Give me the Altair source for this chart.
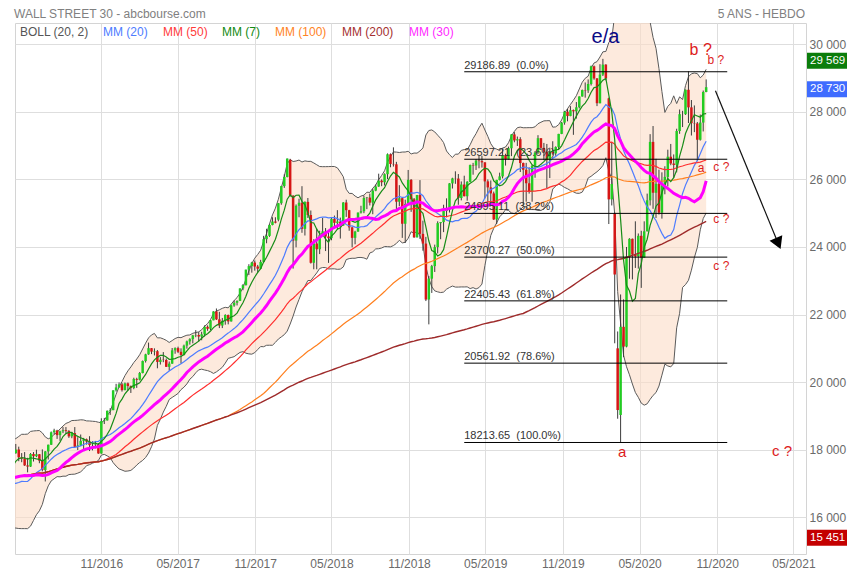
import altair as alt
import pandas as pd

FIRST_WEEK = "2015-10-12"

# weekly OHLC, one bar per week starting FIRST_WEEK
opens = [
    # 2015
    16990, 17216, 17647, 17664, 17910, 17245, 17824, 17798, 17848, 17265, 17128, 17552,
    # 2016
    17425, 16346, 15988, 16094, 16466, 16205, 15974, 16392, 16640, 17007, 17213, 17602, 17516,
    17793, 17577, 17898, 18004, 17774, 17740, 17535, 17501, 17873, 17807, 17865, 17675, 17400,
    17949, 18147, 18516, 18571, 18432, 18544, 18577, 18553, 18395, 18492, 18085, 18124, 18262,
    18308, 18240, 18138, 18145, 18161, 17888, 18848, 18868, 19152, 19171, 19757, 19843, 19934,
    # 2017
    19763, 19964, 19886, 19827, 20094, 20071, 20269, 20624, 20822, 21006, 20903, 20915, 20597,
    20663, 20656, 20453, 20548, 20941, 21007, 20897, 20805, 21080, 21206, 21272, 21384, 21395,
    21350, 21414, 21638, 21580, 21830, 22092, 21858, 21675, 21814, 21988, 21798, 22268, 22350,
    22405, 22773, 22871, 23329, 23434, 23539, 23422, 23358, 23558, 24231, 24329, 24652, 24754,
    # 2018
    24809, 25296, 25803, 26072, 26583, 25521, 24191, 25219, 25310, 24538, 25336, 24947, 23533,
    24103, 23933, 24360, 24463, 24311, 24263, 24831, 24715, 24753, 24635, 25317, 25090, 24581,
    24271, 24456, 25019, 25058, 25451, 25463, 25313, 25669, 25790, 25965, 25917, 26155, 26744,
    26458, 26447, 25340, 25444, 24688, 25271, 25989, 25413, 24286, 25538, 24389, 24101, 22445,
    23062,
    # 2019
    23433, 23996, 24706, 24737, 25064, 25106, 25883, 26031, 26026, 25450, 25849, 25502, 25929,
    26425, 26412, 26559, 26543, 26505, 25942, 25764, 25586, 24815, 25984, 26090, 26719, 26600,
    26922, 27332, 27154, 27192, 26485, 26287, 25886, 25629, 26403, 26797, 27220, 26935, 26820,
    26573, 26817, 26770, 26958, 27347, 27681, 28005, 27876, 28051, 28015, 28135, 28455, 28645,
    # 2020
    28635, 28824, 29348, 28990, 28256, 29103, 29398, 28400, 25409, 24990, 21000, 19028, 21637,
    21053, 23719, 24242, 23775, 23724, 24331, 23685, 24465, 25383, 27111, 25606, 25871, 25016,
    25827, 26075, 26672, 26470, 26428, 27433, 27931, 27930, 28654, 28133, 27666, 27657, 27174,
    27683, 28587,
]
highs = [
    # 2015
    17240, 17660, 17800, 17980, 17930, 17900, 17840, 17900, 17860, 17790, 17600, 17720,
    # 2016
    17425, 16570, 16110, 16470, 16510, 16210, 16460, 16700, 17050, 17240, 17620, 17630, 17800,
    17800, 17960, 18170, 18090, 17900, 17930, 17760, 17900, 17930, 18000, 17870, 18010, 17960,
    18150, 18540, 18620, 18590, 18560, 18670, 18670, 18580, 18530, 18670, 18370, 18450, 18350,
    18330, 18400, 18250, 18260, 18200, 18930, 18940, 19160, 19230, 19760, 19950, 19990, 19980,
    # 2017
    19990, 19990, 19900, 20130, 20130, 20300, 20640, 20840, 21170, 21010, 21000, 20950, 20740,
    20890, 20700, 20610, 21010, 21030, 21050, 21000, 21110, 21230, 21300, 21400, 21540, 21480,
    21490, 21680, 21680, 21840, 22100, 22180, 22080, 21900, 22010, 22000, 22290, 22420, 22420,
    22780, 22900, 23330, 23490, 23560, 23600, 23470, 23620, 24330, 24540, 24670, 24880, 24880,
    # 2018
    25300, 25810, 26150, 26620, 26610, 25530, 25260, 25430, 25800, 25350, 25450, 25080, 24230,
    24540, 24480, 24860, 24560, 24480, 24860, 24930, 25090, 24870, 25330, 25400, 25100, 24600,
    24480, 25020, 25220, 25520, 25480, 25580, 25730, 25850, 26170, 26000, 26180, 26770, 26770,
    26950, 26520, 25830, 25470, 25400, 26280, 26010, 25450, 25540, 25980, 24780, 24300, 23140,
    23470,
    # 2019
    24070, 24760, 24740, 25250, 25440, 25890, 26050, 26240, 26160, 25940, 26110, 25950, 26440,
    26490, 26600, 26700, 26700, 26510, 26000, 25970, 25640, 25990, 26200, 26910, 26760, 26970,
    27340, 27400, 27270, 27250, 26500, 26490, 26360, 26430, 26840, 27310, 27220, 27080, 27050,
    26940, 27130, 26980, 27350, 27700, 28030, 28090, 28170, 28070, 28290, 28460, 28660, 28870,
    # 2020
    28960, 29370, 29370, 29000, 29410, 29569, 29410, 28420, 27100, 25020, 21500, 22595, 22450,
    24000, 24260, 24250, 24760, 24400, 24480, 24760, 25580, 27340, 27580, 26610, 26290, 26210,
    26390, 26880, 27050, 26740, 27500, 28070, 28030, 28660, 29200, 28350, 28190, 27700, 27920,
    28630, 28960,
]
lows = [
    # 2015
    16950, 17010, 17550, 17640, 17230, 17210, 17680, 17380, 17240, 17120, 17100, 17420,
    # 2016
    16310, 15840, 15451, 15880, 15950, 15503, 15970, 16300, 16500, 16820, 17150, 17400, 17480,
    17480, 17550, 17880, 17660, 17630, 17520, 17330, 17490, 17650, 17780, 17600, 17360, 17060,
    17710, 18140, 18450, 18320, 18260, 18490, 18480, 18350, 18340, 18080, 17990, 18110, 18010,
    18150, 17960, 17980, 18040, 17880, 17880, 18760, 18860, 19030, 19170, 19720, 19840, 19720,
    # 2017
    19760, 19750, 19680, 19790, 19830, 20050, 20260, 20580, 20810, 20830, 20790, 20410, 20520,
    20590, 20450, 20340, 20540, 20840, 20860, 20550, 20790, 20990, 21110, 21150, 21330, 21200,
    21240, 21350, 21520, 21540, 21830, 21840, 21600, 21600, 21700, 21710, 21790, 22230, 22270,
    22400, 22720, 22860, 23170, 23240, 23300, 23240, 23350, 23540, 24110, 24300, 24640, 24700,
    # 2018
    24760, 25250, 25750, 26060, 25490, 23360, 23990, 24880, 24420, 24340, 24860, 23510, 23340,
    23340, 23790, 24340, 23880, 23530, 24200, 24570, 24520, 24250, 24630, 24890, 24480, 23990,
    24080, 24450, 24990, 25000, 25120, 25230, 24970, 25650, 25780, 25800, 25820, 26010, 26360,
    26380, 25080, 25210, 24270, 24120, 25250, 25040, 24270, 24280, 24240, 23890, 22400, 21710,
    22640,
    # 2019
    23260, 23810, 24230, 24440, 24880, 25020, 25730, 25870, 25250, 25380, 25500, 25370, 25920,
    26140, 26280, 26330, 26350, 25440, 25220, 25330, 24800, 24680, 25970, 26030, 26410, 26590,
    26690, 27100, 26990, 26220, 25230, 25340, 25580, 25340, 26050, 26750, 26870, 26570, 25740,
    26040, 26730, 26700, 26900, 27340, 27620, 27720, 27870, 27320, 27800, 28100, 28450, 28420,
    # 2020
    28560, 28780, 28950, 28170, 28250, 29060, 28930, 24680, 25230, 21150, 18917, 18214, 20740,
    21030, 23060, 23040, 23380, 23360, 22790, 23680, 24460, 25230, 25130, 24860, 24960, 24840,
    25560, 25790, 26420, 26040, 26210, 27350, 27550, 27910, 27670, 27300, 27400, 26540, 27150,
    27420, 28580,
]
closes = [
    # 2015
    17216, 17647, 17664, 17910, 17245, 17824, 17798, 17848, 17265, 17128, 17552, 17425,
    # 2016
    16346, 15988, 16094, 16466, 16205, 15974, 16392, 16640, 17007, 17213, 17602, 17516, 17793,
    17577, 17898, 18004, 17774, 17740, 17535, 17501, 17873, 17807, 17865, 17675, 17400, 17949,
    18147, 18516, 18571, 18432, 18544, 18577, 18553, 18395, 18492, 18085, 18124, 18262, 18308,
    18240, 18138, 18145, 18161, 17888, 18848, 18868, 19152, 19171, 19757, 19843, 19934, 19763,
    # 2017
    19964, 19886, 19827, 20094, 20071, 20269, 20624, 20822, 21006, 20903, 20915, 20597, 20663,
    20656, 20453, 20548, 20941, 21007, 20897, 20805, 21080, 21206, 21272, 21384, 21395, 21350,
    21414, 21638, 21580, 21830, 22092, 21858, 21675, 21814, 21988, 21798, 22268, 22350, 22405,
    22773, 22871, 23329, 23434, 23539, 23422, 23358, 23558, 24231, 24329, 24652, 24754, 24719,
    # 2018
    25296, 25803, 26072, 26617, 25521, 24191, 25219, 25310, 24538, 25336, 24947, 23533, 24103,
    23933, 24360, 24463, 24311, 24263, 24831, 24715, 24753, 24635, 25317, 25090, 24581, 24271,
    24456, 25019, 25058, 25451, 25463, 25313, 25669, 25790, 25965, 25917, 26155, 26744, 26458,
    26447, 25340, 25444, 24688, 25271, 25989, 25413, 24286, 25538, 24389, 24101, 22445, 23062,
    23433,
    # 2019
    23996, 24706, 24737, 25064, 25106, 25883, 26031, 26026, 25450, 25849, 25502, 25929, 26425,
    26412, 26559, 26543, 26505, 25942, 25764, 25586, 24815, 25984, 26090, 26719, 26600, 26922,
    27332, 27154, 27192, 26485, 26287, 25886, 25629, 26403, 26797, 27220, 26935, 26820, 26573,
    26817, 26770, 26958, 27347, 27681, 28005, 27876, 28051, 28015, 28135, 28455, 28645, 28635,
    # 2020
    28824, 29348, 28990, 28256, 29103, 29398, 28992, 25409, 25865, 23186, 19174, 21637, 21053,
    23719, 24242, 23775, 23724, 24331, 23685, 24465, 25383, 27111, 25606, 25871, 25016, 25827,
    26075, 26672, 26470, 26428, 27433, 27931, 27930, 28654, 28133, 27666, 27657, 27174, 27683,
    28587, 28730,
]
assert len(opens) == len(highs) == len(lows) == len(closes) == 262

# Fibonacci retracement
fib_high = 29186.89
fib_low = 18213.65
fib_pcts = [0.0, 23.6, 38.2, 50.0, 61.8, 78.6, 100.0]
fib_span = ["2019-03-18", "2020-12-01"]

# price badges on the right axis
badge_values = [29569, 28730, 15451]
badge_colors = ["#0b7d0b", "#3f6cff", "#c40000"]

# wave annotations (text, date, price)
ann_texts = ["e/a", "b ?", "b ?", "a", "c ?", "c ?", "c ?", "a", "c ?"]
ann_dates = ["2020-02-16", "2020-09-29", "2020-11-04", "2020-09-30", "2020-11-17",
             "2020-11-17", "2020-11-17", "2020-03-27", "2021-04-10"]
ann_prices = [30030, 29683, 29417, 26330, 26360, 24840, 23450, 17941, 17971]

# projected arrow
arrow_dates = ["2020-11-03", "2021-04-01"]
arrow_prices = [28627, 24104]

legend_names = ["BOLL (20, 2)", "MM (20)", "MM (50)", "MM (7)", "MM (100)", "MM (200)", "MM (30)"]
legend_colors = ["#555555", "#4d7cff", "#ff3b3b", "#128a12", "#ff8426", "#a53030", "#ff2bff"]

tick_dates = ["2016-11-07", "2017-05-07", "2017-11-07", "2018-05-07", "2018-11-07",
              "2019-05-07", "2019-11-07", "2020-05-07", "2020-11-07", "2021-05-07"]
y_ticks = [16000, 18000, 20000, 22000, 24000, 26000, 28000, 30000]
x_domain = ["2016-04-28", "2021-05-25"]
y_domain = [14913, 30630]

# ---------------------------------------------------------------- data frames
weeks = pd.date_range(FIRST_WEEK, periods=len(closes), freq="7D")
df = pd.DataFrame({"date": weeks.strftime("%Y-%m-%d"), "open": opens, "high": highs,
                   "low": lows, "close": closes})
c = df["close"]
for n in (7, 20, 30, 50, 100, 200):
    df[f"mm{n}"] = c.rolling(n, min_periods=1).mean()
mid = c.rolling(20, min_periods=1).mean()
sd = c.rolling(20, min_periods=1).std(ddof=0).fillna(0)
df["bb_up"] = mid + 2 * sd
df["bb_lo"] = mid - 2 * sd

fib_df = pd.DataFrame({
    "date": fib_span[0], "date_end": fib_span[1],
    "price": [fib_high - p / 100.0 * (fib_high - fib_low) for p in fib_pcts],
    "pct": fib_pcts,
})
fib_df["label"] = [f"{v:.2f}\u00a0 ({p:.1f}%)" for v, p in zip(fib_df["price"], fib_df["pct"])]

badge_df = pd.DataFrame({"price": badge_values, "col": badge_colors,
                         "label": [f"{v:,}".replace(",", " ") for v in badge_values]})


def dt(s):
    t = pd.Timestamp(s)
    return alt.DateTime(year=t.year, month=t.month, date=t.day, utc=True)


FONT = "Liberation Sans"
GRID = "#dedede"
xs = alt.Scale(type="utc", domain=[dt(s) for s in x_domain])
ys = alt.Scale(domain=y_domain, nice=False, zero=False)
xa = alt.Axis(values=[dt(s) for s in tick_dates], labelExpr="utcFormat(datum.value, '%m/%Y')",
              grid=True, gridColor=GRID, domain=False, ticks=False, labelPadding=4,
              labelColor="#6a6a6a", labelFontSize=12, labelFont=FONT, labelFlush=False,
              labelOverlap=False, title=None)
ya = alt.Axis(orient="right", values=y_ticks,
              labelExpr="replace(format(datum.value, ','), ',', ' ')",
              grid=True, gridColor=GRID, domain=False, ticks=False, labelPadding=3,
              labelColor="#6a6a6a", labelFontSize=12, labelFont=FONT, labelOverlap=False,
              title=None)


def X(f):
    return alt.X(f, type="temporal", scale=xs, axis=xa)


def Y(f):
    return alt.Y(f, type="quantitative", scale=ys, axis=ya)


GREEN = "#22cc22"
RED = "#d61616"

layers = []
layers.append(alt.Chart(df).mark_area(clip=True, color="#fcdcc6", opacity=0.6)
              .encode(x=X("date"), y=Y("bb_lo"), y2="bb_up"))
for f in ("bb_up", "bb_lo"):
    layers.append(alt.Chart(df).mark_line(clip=True, color="#5a5a5a", strokeWidth=1)
                  .encode(x=X("date"), y=Y(f)))
layers.append(alt.Chart(df).mark_rule(clip=True, color="#3c3c3c", strokeWidth=1)
              .encode(x=X("date"), y=Y("low"), y2="high"))
layers.append(alt.Chart(df).mark_bar(clip=True, size=2.5)
              .encode(x=X("date"), y=Y("open"), y2="close",
                      color=alt.condition("datum.close >= datum.open",
                                          alt.value(GREEN), alt.value(RED))))

ma_styles = [("mm20", "#4d7cff", 1.2), ("mm50", "#ff2e2e", 1.2), ("mm100", "#ff7f1e", 1.2),
             ("mm200", "#9e2b2b", 1.4), ("mm7", "#178c17", 1.2), ("mm30", "#ff00ff", 3.0)]
for f, col, w in ma_styles:
    layers.append(alt.Chart(df).mark_line(clip=True, color=col, strokeWidth=w)
                  .encode(x=X("date"), y=Y(f)))

# Fibonacci lines and labels
layers.append(alt.Chart(fib_df).mark_rule(clip=True, color="#000000", strokeWidth=1)
              .encode(x=X("date"), x2="date_end", y=Y("price")))
layers.append(alt.Chart(fib_df).mark_text(align="left", baseline="bottom", dy=-1, fontSize=11,
                                          font=FONT, color="#333333")
              .encode(x=X("date"), y=Y("price"), text="label:N"))

# arrow
arrow_df = pd.DataFrame({"date": [arrow_dates[0]], "date_end": [arrow_dates[1]],
                         "price": [arrow_prices[0]], "price_end": [arrow_prices[1]]})
layers.append(alt.Chart(arrow_df).mark_rule(color="#111111", strokeWidth=1.2)
              .encode(x=X("date"), x2="date_end", y=Y("price"), y2="price_end"))
head_df = pd.DataFrame({"date": [arrow_dates[1]], "price": [arrow_prices[1]]})
layers.append(alt.Chart(head_df).mark_point(shape="triangle-up", filled=True, size=190,
                                            angle=157, color="#000000", opacity=1)
              .encode(x=X("date"), y=Y("price")))

# annotations: color, font size, baseline
ann_styles = [("#0a0a85", 20, "alphabetic"), ("#dd1c1c", 16, "alphabetic"),
              ("#dd1c1c", 12, "alphabetic"), ("#dd1c1c", 12, "middle"),
              ("#dd1c1c", 12, "middle"), ("#dd1c1c", 12, "middle"), ("#dd1c1c", 12, "middle"),
              ("#dd1c1c", 15, "middle"), ("#dd1c1c", 15, "middle")]
for t, d, p, (col, fs, bl) in zip(ann_texts, ann_dates, ann_prices, ann_styles):
    adf = pd.DataFrame({"date": [d], "price": [p], "t": [t]})
    layers.append(alt.Chart(adf).mark_text(align="center", baseline=bl, fontSize=fs,
                                           font=FONT, color=col)
                  .encode(x=X("date"), y=Y("price"), text="t:N"))

# badges
layers.append(alt.Chart(badge_df).mark_rect(yOffset=-6, y2Offset=10)
              .encode(x=alt.value(792), x2=alt.value(832), y=Y("price"), y2="price",
                      color=alt.Color("col:N", scale=None)))
layers.append(alt.Chart(badge_df).mark_text(align="left", baseline="middle", dy=2, fontSize=11.5,
                                            font=FONT, color="white")
              .encode(x=alt.value(795), y=Y("price"), text="label:N"))

# legend row
legend_px = [5, 88, 148, 207, 260, 327, 394]
for name, col, px in zip(legend_names, legend_colors, legend_px):
    ldf = pd.DataFrame({"t": [name]})
    layers.append(alt.Chart(ldf).mark_text(align="left", baseline="middle", fontSize=12,
                                           font=FONT, color=col)
                  .encode(x=alt.value(px), y=alt.value(9), text="t:N"))

# titles
tdf = pd.DataFrame({"t": ["WALL STREET 30 - abcbourse.com"]})
layers.append(alt.Chart(tdf).mark_text(align="left", baseline="alphabetic", fontSize=12,
                                       font=FONT, color="#808080")
              .encode(x=alt.value(-1), y=alt.value(-5), text="t:N"))
tdf2 = pd.DataFrame({"t": ["5 ANS - HEBDO"]})
layers.append(alt.Chart(tdf2).mark_text(align="right", baseline="alphabetic", fontSize=12,
                                        font=FONT, color="#808080")
              .encode(x=alt.value(790), y=alt.value(-5), text="t:N"))

chart = (
    alt.layer(*layers)
    .properties(width=791, height=531,
                padding={"left": 7, "top": 15, "right": 41, "bottom": 18},
                autosize=alt.AutoSizeParams(type="none"))
    .configure(font=FONT, background="white")
    .configure_view(stroke="#d4d4d4", strokeWidth=1)
)

chart.save("out.html", embed_options={"renderer": "svg", "actions": False})
